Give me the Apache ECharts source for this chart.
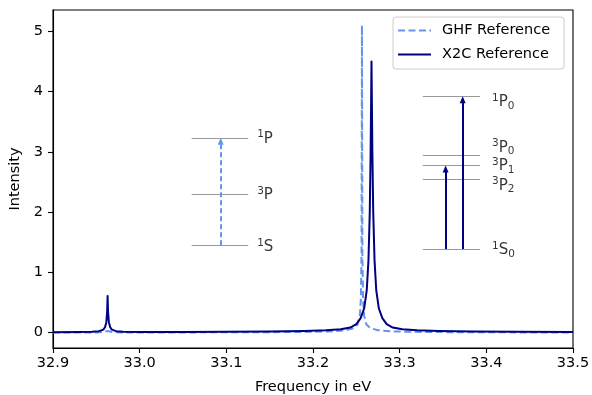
<!DOCTYPE html>
<html><head><meta charset="utf-8">
<script src="https://cdn.jsdelivr.net/npm/echarts@6/dist/echarts.min.js"></script>
<style>html,body{margin:0;padding:0;background:#fff}#c{width:592px;height:395px}</style>
</head><body><div id="c"></div>
<script>
// ---- axis ticks ----
const xTicks = [32.9, 33.0, 33.1, 33.2, 33.3, 33.4, 33.5];
const yTicks = [0, 1, 2, 3, 4, 5];

// ---- spectra (frequency in eV, intensity) ----
const ghfFreq = [32.900, 32.950, 32.958, 32.961, 32.963, 32.965, 32.968, 32.980, 33.000, 33.100, 33.180, 33.220, 33.238, 33.247, 33.2515, 33.2540, 33.2552, 33.2560, 33.2565, 33.2570, 33.2578, 33.2590, 33.2615, 33.2660, 33.2750, 33.2930, 33.3300, 33.4000, 33.5000];
const ghfInt  = [0.002, 0.004, 0.010, 0.022, 0.045, 0.022, 0.010, 0.004, 0.003, 0.005, 0.010, 0.020, 0.040, 0.075, 0.14, 0.28, 0.55, 1.3, 5.10, 1.3, 0.55, 0.28, 0.14, 0.075, 0.040, 0.020, 0.010, 0.005, 0.003];

const x2cFreq = [32.900, 32.930, 32.945, 32.953, 32.958, 32.960, 32.9615, 32.9625, 32.963, 32.9635, 32.9645, 32.966, 32.968, 32.973, 32.981, 33.000, 33.050, 33.100, 33.150, 33.190, 33.215, 33.232, 33.243, 33.250, 33.255, 33.259, 33.262, 33.264, 33.2655, 33.2665, 33.2675, 33.2685, 33.2695, 33.2710, 33.2730, 33.2760, 33.2800, 33.2850, 33.2920, 33.3030, 33.3200, 33.3450, 33.3850, 33.4350, 33.5000];
const x2cInt  = [0.006, 0.009, 0.014, 0.025, 0.05, 0.09, 0.17, 0.35, 0.61, 0.35, 0.17, 0.09, 0.05, 0.025, 0.014, 0.011, 0.012, 0.015, 0.019, 0.027, 0.038, 0.055, 0.085, 0.14, 0.24, 0.40, 0.70, 1.2, 2.0, 3.0, 4.50, 3.0, 2.0, 1.2, 0.70, 0.40, 0.24, 0.14, 0.085, 0.055, 0.038, 0.027, 0.019, 0.014, 0.011];

// ---- level diagrams (in data units) ----
const leftDiagramX = [33.060, 33.1253];
const leftLevels = [1.45, 2.30, 3.23];
const leftSup  = ['1', '3', '1'];
const leftTerm = ['S', 'P', 'P'];
const leftSub  = ['', '', ''];
const leftLabelY = [1.42, 2.28, 3.22];
const leftLabelX = 33.1350;
const leftArrowX = 33.0935;

const rightDiagramX = [33.3266, 33.3928];
const rightLevels = [1.39, 2.55, 2.77, 2.95, 3.92];
const rightSup  = ['1', '3', '3', '3', '1'];
const rightTerm = ['S', 'P', 'P', 'P', 'P'];
const rightSub  = ['0', '2', '1', '0', '0'];
const rightLabelY = [1.37, 2.44, 2.76, 3.07, 3.82];
const rightLabelX = 33.4060;
const rightArrowX = [33.3530, 33.3727];
const rightArrowTop = [2.77, 3.92];

const FONT = 'DejaVu Sans';
const FS = 14.5;
const GHF_COLOR = '#6495ED';
const X2C_COLOR = '#000080';
const ARROW_TIP_PAD = 0.055; // arrow symbol is centred on its end point

const zip = (a, b) => a.map((v, i) => [v, b[i]]);

const levelSegs = [];
leftLevels.forEach(y => levelSegs.push([{coord: [leftDiagramX[0], y]}, {coord: [leftDiagramX[1], y]}]));
rightLevels.forEach(y => levelSegs.push([{coord: [rightDiagramX[0], y]}, {coord: [rightDiagramX[1], y]}]));

const rich = (sup, term, sub) => '{s|' + sup + '}{b|' + term + '}' + (sub ? '{d|' + sub + '}' : '');
const labelData = [];
leftTerm.forEach((t, i) => labelData.push({value: [leftLabelX, leftLabelY[i]], name: rich(leftSup[i], t, leftSub[i])}));
rightTerm.forEach((t, i) => labelData.push({value: [rightLabelX, rightLabelY[i]], name: rich(rightSup[i], t, rightSub[i])}));

const chart = echarts.init(document.getElementById('c'), null, {renderer: 'canvas'});
chart.setOption({
  animation: false,
  backgroundColor: '#fff',
  textStyle: {fontFamily: FONT},
  grid: {left: 53, right: 19, top: 10, bottom: 47, containLabel: false, outerBoundsMode: 'none',
         show: true, borderColor: '#000', borderWidth: 1.1, backgroundColor: 'transparent'},
  legend: {
    data: ['GHF Reference', 'X2C Reference'],
    orient: 'vertical', left: 393, top: 17,
    itemWidth: 33, itemHeight: 14, itemGap: 9,
    padding: [6, 14, 7, 4],
    itemStyle: {opacity: 0},
    backgroundColor: 'rgba(255,255,255,0.85)', borderColor: '#ccc', borderWidth: 1, borderRadius: 3,
    textStyle: {fontSize: FS, color: '#000', fontFamily: FONT, padding: [0, 0, 0, 6]}
  },
  xAxis: {
    type: 'value', min: 32.9, max: 33.5,
    name: 'Frequency in eV', nameLocation: 'middle', nameGap: 32,
    nameTextStyle: {fontSize: FS, color: '#000', fontFamily: FONT},
    axisLine: {show: true, onZero: false, lineStyle: {color: '#000', width: 1.1}},
    axisTick: {show: true, length: 5, customValues: xTicks, lineStyle: {color: '#000', width: 1.1}},
    axisLabel: {customValues: xTicks, margin: 8, fontSize: FS, color: '#000', fontFamily: FONT, formatter: v => v.toFixed(1)},
    splitLine: {show: false}
  },
  yAxis: {
    type: 'value', min: -0.255, max: 5.355,
    name: 'Intensity', nameLocation: 'middle', nameGap: 25, nameRotate: 90,
    nameTextStyle: {fontSize: FS, color: '#000', fontFamily: FONT},
    axisLine: {show: true, onZero: false, lineStyle: {color: '#000', width: 1.1}},
    axisTick: {show: true, length: 5, customValues: yTicks, lineStyle: {color: '#000', width: 1.1}},
    axisLabel: {customValues: yTicks, margin: 10, fontSize: FS, color: '#000', fontFamily: FONT, formatter: v => String(v)},
    splitLine: {show: false}
  },
  series: [
    {
      name: 'GHF Reference', type: 'line', data: zip(ghfFreq, ghfInt),
      showSymbol: false, symbol: 'none', smooth: false, sampling: null,
      lineStyle: {color: GHF_COLOR, width: 2, type: [7, 3.5], join: 'round'},
      itemStyle: {color: GHF_COLOR}, z: 2
    },
    {
      name: 'X2C Reference', type: 'line', data: zip(x2cFreq, x2cInt),
      showSymbol: false, symbol: 'none', smooth: false,
      lineStyle: {color: X2C_COLOR, width: 2, join: 'round'},
      itemStyle: {color: X2C_COLOR}, z: 3
    },
    {
      name: 'levels', type: 'line', data: [], silent: true,
      markLine: {
        silent: true, symbol: ['none', 'none'], label: {show: false},
        lineStyle: {color: '#999', width: 1, type: 'solid'},
        data: levelSegs, animation: false
      }
    },
    {
      name: 'arrowsGHF', type: 'line', data: [], silent: true,
      markLine: {
        silent: true, symbol: ['none', 'triangle'], symbolSize: [6, 7], label: {show: false},
        lineStyle: {color: GHF_COLOR, width: 2, type: [5, 3]},
        data: [[{coord: [leftArrowX, leftLevels[0]]}, {coord: [leftArrowX, leftLevels[2] - ARROW_TIP_PAD]}]], animation: false
      }
    },
    {
      name: 'arrowsX2C', type: 'line', data: [], silent: true,
      markLine: {
        silent: true, symbol: ['none', 'triangle'], symbolSize: [6, 7], label: {show: false},
        lineStyle: {color: X2C_COLOR, width: 2, type: 'solid'},
        data: rightArrowX.map((x, i) => [{coord: [x, rightLevels[0]]}, {coord: [x, rightArrowTop[i] - ARROW_TIP_PAD]}]), animation: false
      }
    },
    {
      name: 'labels', type: 'scatter', data: labelData, silent: true,
      symbolSize: 1, itemStyle: {color: 'rgba(0,0,0,0)'},
      label: {
        show: true, position: 'right', distance: 0, formatter: p => p.name,
        color: '#000', fontFamily: FONT,
        rich: {
          s: {fontSize: 10.5, lineHeight: 19, verticalAlign: 'top', color: '#000', fontFamily: FONT},
          b: {fontSize: 15, lineHeight: 19, verticalAlign: 'middle', color: '#000', fontFamily: FONT},
          d: {fontSize: 10.5, lineHeight: 19, verticalAlign: 'bottom', color: '#000', fontFamily: FONT}
        }
      }
    }
  ]
});
</script></body></html>
